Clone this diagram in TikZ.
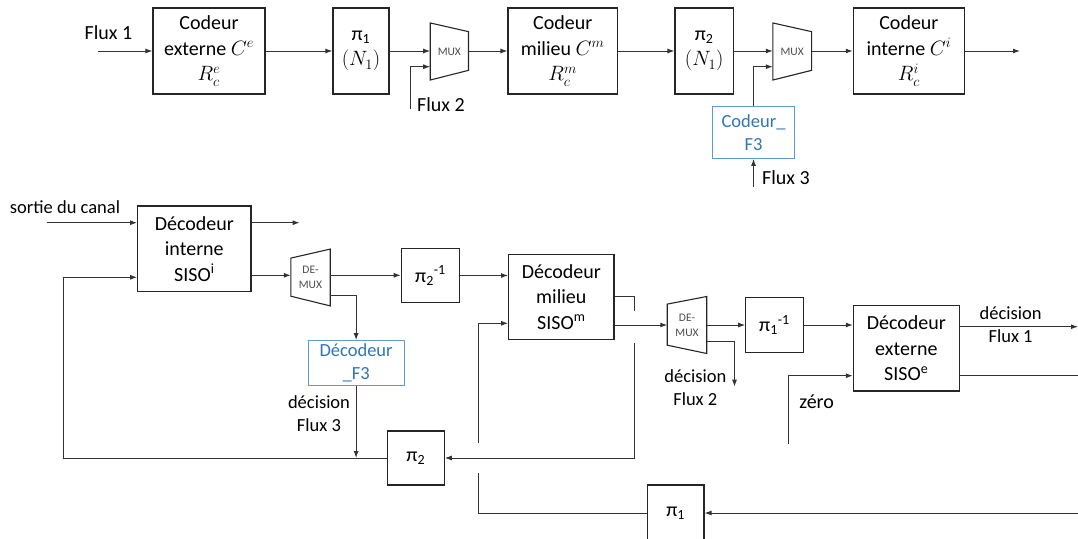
\documentclass[tikz,border=0pt]{standalone}
\usepackage{fontspec}
\setmainfont{Carlito}
\usetikzlibrary{arrows.meta,calc}
\definecolor{bluetxt}{RGB}{46,117,182}
\definecolor{blueline}{RGB}{91,155,213}
\begin{document}
\begin{tikzpicture}[x=1pt,y=-1pt,
 blk/.style={draw=black!85,line width=1.1pt,inner sep=0pt,align=center,font=\fontsize{20}{25.5}\selectfont},
 bblk/.style={draw=blueline,line width=1pt,inner sep=0pt,align=center,text=bluetxt,font=\fontsize{18.5}{23}\selectfont},
 muxn/.style={inner sep=0pt,align=center,text=black!70,font=\fontsize{11.5}{15}\selectfont},
 muxshape/.style={draw=black!85,line width=1.1pt},
 lbl/.style={inner sep=0pt,align=center,font=\fontsize{18.5}{22.7}\selectfont},
 lblb/.style={inner sep=0pt,align=center,font=\fontsize{20}{24}\selectfont},
 conn/.style={line width=1pt,draw=black!80},
 arr/.style={conn,-{Latex[length=7pt,width=5pt]}},
]
\useasboundingbox (0,0) rectangle (1078,538);

% ---------------- top row: encoder ----------------
\node[blk,minimum width=112pt,minimum height=86pt] (cext) at (209,51) {Codeur\\externe $C^e$\\$R_c^e$};
\node[blk,minimum width=56pt,minimum height=86pt] (pi1) at (361,51) {π\textsubscript{1}\\$(N_1)$};
\node[muxn,minimum width=37.9pt,minimum height=56.7pt] (mux1) at (449.35,51.5) {MUX};
\draw[muxshape] (mux1.north west) -- ($(mux1.north east)+(0,8.7)$) -- ($(mux1.south east)+(0,-9.7)$) -- (mux1.south west) -- cycle;
\node[blk,minimum width=109.4pt,minimum height=86pt] (cmil) at (562.7,51) {Codeur\\milieu $C^m$\\$R_c^m$};
\node[blk,minimum width=58.4pt,minimum height=86pt] (pi2) at (704.2,51) {π\textsubscript{2}\\$(N_1)$};
\node[muxn,minimum width=38.4pt,minimum height=56.7pt] (mux2) at (792.2,51.5) {MUX};
\draw[muxshape] (mux2.north west) -- ($(mux2.north east)+(0,8.7)$) -- ($(mux2.south east)+(0,-9.7)$) -- (mux2.south west) -- cycle;
\node[blk,minimum width=111.2pt,minimum height=86pt] (cint) at (908.9,51) {Codeur\\interne $C^i$\\$R_c^i$};
\node[bblk,minimum width=82pt,minimum height=52.3pt] (cF3) at (753.5,132.2) {Codeur\_\\F3};

\node[lblb] (lf1) at (108.5,33) {Flux 1};
\node[lblb] (lf2) at (441,105) {Flux 2};
\node[lblb,anchor=west] (lf3) at (762,178) {Flux 3};

\coordinate (fin1) at (98,51);
\coordinate (m1in) at ([yshift=-15.2pt]mux1.west);
\coordinate (m2in) at ([yshift=-15.2pt]mux2.west);
\coordinate (f2s) at (410.5,109);
\coordinate (f3s) at (753.5,187);
\coordinate (tout) at (1020,51);

\draw[arr] (fin1) -- (cext.west);
\draw[arr] (cext.east) -- (pi1.west);
\draw[arr] (pi1.east) -- (pi1.east -| mux1.west);
\draw[arr] (f2s) |- (m1in);
\draw[arr] (mux1.east |- cmil.west) -- (cmil.west);
\draw[arr] (cmil.east) -- (pi2.west);
\draw[arr] (pi2.east) -- (pi2.east -| mux2.west);
\draw[arr] (cF3.north) |- (m2in);
\draw[arr] (f3s) -- (cF3.south);
\draw[arr] (mux2.east |- cint.west) -- (cint.west);
\draw[arr] (cint.east) -- (tout);

% ---------------- bottom: decoder ----------------
\node[lbl] (sortie) at (65,207) {sortie du canal};
\node[blk,minimum width=113.3pt,minimum height=85.7pt] (dint) at (194.3,248.8) {Décodeur\\interne\\SISO\textsuperscript{i}};
\node[muxn,minimum width=39pt,minimum height=56.4pt] (dmx1) at (310.5,277.5) {DE-\\MUX};
\draw[muxshape] ($(dmx1.north west)+(0,9)$) -- (dmx1.north east) -- (dmx1.south east) -- ($(dmx1.south west)+(0,-9.7)$) -- cycle;
\node[blk,minimum width=58.5pt,minimum height=54.3pt] (pi2inv) at (430.5,275.5) {π\textsubscript{2}\textsuperscript{-1}};
\node[blk,minimum width=105.3pt,minimum height=85.3pt] (dmil) at (561.3,296.7) {Décodeur\\milieu\\SISO\textsuperscript{m}};
\node[bblk,minimum width=95.8pt,minimum height=45.3pt] (dF3) at (356.1,363.3) {Décodeur\\\_F3};
\node[blk,minimum width=56.8pt,minimum height=54pt] (pi2b) at (415.8,458) {π\textsubscript{2}};
\node[muxn,minimum width=39.1pt,minimum height=56.6pt] (dmx2) at (687,325) {DE-\\MUX};
\draw[muxshape] ($(dmx2.north west)+(0,7.6)$) -- (dmx2.north east) -- (dmx2.south east) -- ($(dmx2.south west)+(0,-8.3)$) -- cycle;
\node[blk,minimum width=57.6pt,minimum height=54.3pt] (pi1inv) at (774.5,325) {π\textsubscript{1}\textsuperscript{-1}};
\node[blk,minimum width=105.9pt,minimum height=85.3pt] (dext) at (906.3,348.3) {Décodeur\\externe\\SISO\textsuperscript{e}};
\node[blk,minimum width=56.6pt,minimum height=56pt] (pi1b) at (675.7,513) {π\textsubscript{1}};

\node[lbl] (ldf3) at (319,413.7) {décision\\Flux 3};
\node[lbl] (ldf2) at (695.3,387.3) {décision\\Flux 2};
\node[lbl] (ldf1) at (1010.6,324.5) {décision\\Flux 1};
\node[lblb] (lzero) at (816.6,401.7) {zéro};

\coordinate (sin) at (46.5,222.7);
\coordinate (dtop) at (299.6,222.7);
\coordinate (o1) at ([yshift=-26.5pt]dint.east);
\coordinate (o2) at ([yshift=-17.8pt]dmx1.east);
\coordinate (din) at ([yshift=-28.5pt]dint.west);
\coordinate (fbc) at (63,458);
\coordinate (stubend) at (634.9,310.7);
\coordinate (m2top) at (634.9,343.3);
\coordinate (lin1) at (478,443.3);
\coordinate (dmin) at ([yshift=-26.6pt]dmil.west);
\coordinate (lin2) at (478,472.7);
\coordinate (rb) at (1078,513);
\coordinate (o3) at ([yshift=-16.7pt]dmx2.east);
\coordinate (dec2) at (734.5,386.7);
\coordinate (d1) at ([yshift=21.6pt]dext.east);
\coordinate (d1e) at (1078,326.7);
\coordinate (d2) at ([yshift=-27.4pt]dext.east);
\coordinate (d2e) at (1078,375.7);
\coordinate (z) at (788,444);
\coordinate (zin) at ([yshift=-27.4pt]dext.west);

\draw[arr] (sin) -- (sin -| dint.west);
\draw[arr] (sin -| dint.east) -- (dtop);
\draw[arr] (o1) -- (o1 -| dmx1.west);
\draw[arr] (o1 -| dmx1.east) -- (o1 -| pi2inv.west);
\draw[arr] (pi2inv.east) -- (pi2inv.east -| dmil.west);
\draw[arr] (o2) -| (dF3.north);
\draw[arr] (dF3.south) -- (dF3.south |- pi2b.west);
\draw[arr] (pi2b.west) -- (fbc) |- (din);
\draw[conn] (dmil.east) -| (stubend);
\draw[arr] (m2top) |- (pi2b.east);
\draw[arr] (dmx2.west -| dmil.east) -- (dmx2.west);
\draw[arr] (lin1) |- (dmin);
\draw[conn] (lin2) |- (pi1b.west);
\draw[arr] (rb) -- (pi1b.east);
\draw[arr] (dmx2.east) -- (pi1inv.west);
\draw[arr] (pi1inv.east) -- (pi1inv.east -| dext.west);
\draw[arr] (o3) -| (dec2);
\draw[arr] (d1) -- (d1e);
\draw[conn] (d2) -- (d2e);
\draw[arr] (z) |- (zin);
\end{tikzpicture}
\end{document}
